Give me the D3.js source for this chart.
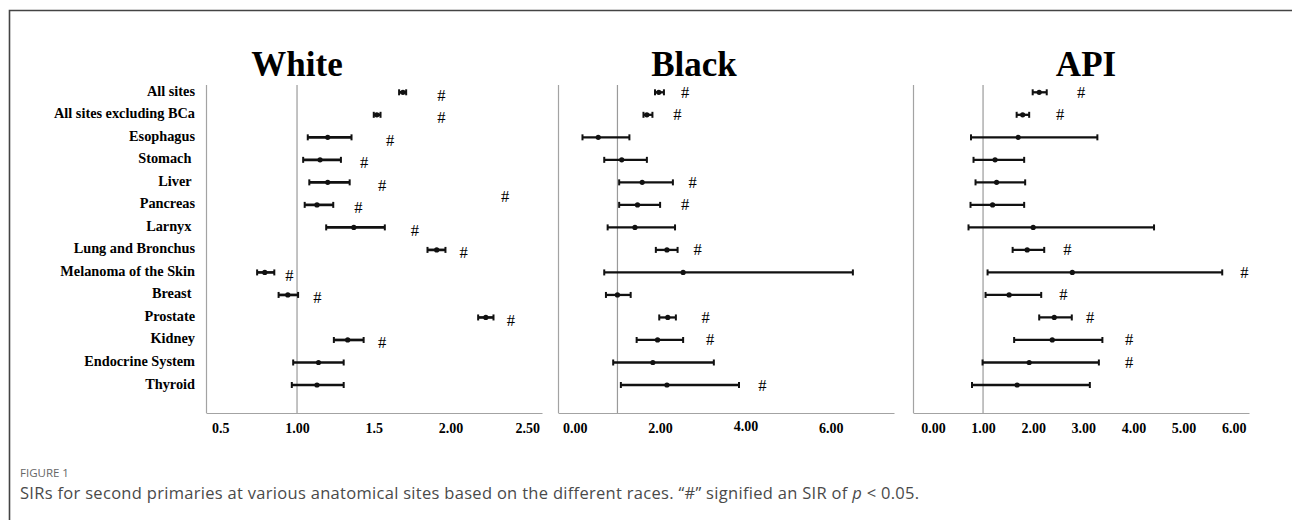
<!DOCTYPE html>
<html>
<head>
<meta charset="utf-8">
<script src="https://cdn.jsdelivr.net/npm/d3@7/dist/d3.min.js"></script>
<style>
  html, body { margin: 0; padding: 0; background: #fff; }
  svg { display: block; }
  .site { font-family: "Liberation Serif", "Times New Roman", serif; font-weight: bold; font-size: 14.3px; fill: #000; white-space: pre; }
  .title { font-family: "Liberation Serif", "Times New Roman", serif; font-weight: bold; font-size: 35px; fill: #000; }
  .tick text { font-family: "Liberation Serif", "Times New Roman", serif; font-weight: bold; font-size: 14px; fill: #000; }
  .hash { font-family: "Liberation Serif", "Times New Roman", serif; font-size: 16.5px; fill: #000; }
  .cap1 { font-family: "Open Sans", sans-serif; font-size: 11.5px; fill: #666; }
  .cap2 { font-family: "Open Sans", sans-serif; font-size: 16.5px; letter-spacing: 0.3px; fill: #4a4a4a; }
</style>
</head>
<body>
<svg id="chart" width="1292" height="520"></svg>
<script>
// ---------- data ----------
const sites = ["All sites", "All sites excluding BCa", "Esophagus", "Stomach ", "Liver ", "Pancreas",
  "Larnyx ", "Lung and Bronchus", "Melanoma of the Skin", "Breast ", "Prostate", "Kidney",
  "Endocrine System", "Thyroid"];

const whiteSIR = [1.69, 1.52, 1.20, 1.15, 1.20, 1.13, 1.37, 1.91, 0.79, 0.94, 2.23, 1.33, 1.14, 1.13];
const whiteLo  = [1.665, 1.50, 1.07, 1.04, 1.08, 1.05, 1.19, 1.85, 0.74, 0.88, 2.18, 1.24, 0.975, 0.966];
const whiteHi  = [1.711, 1.544, 1.355, 1.286, 1.343, 1.236, 1.572, 1.967, 0.852, 1.007, 2.28, 1.434, 1.304, 1.304];
const whiteHash = [[0, 1.94], [1, 1.94], [2, 1.606], [3, 1.437], [4, 1.555], [4.5, 2.355], [5, 1.40],
  [6, 1.768], [7, 2.086], [8, 0.95], [9, 1.133], [10, 2.394], [11, 1.555]];

const blackSIR = [1.97, 1.69, 0.55, 1.10, 1.58, 1.47, 1.41, 2.16, 2.54, 1.00, 2.18, 1.94, 1.83, 2.16];
const blackLo  = [1.88, 1.61, 0.18, 0.69, 1.04, 1.04, 0.77, 1.90, 0.69, 0.73, 1.98, 1.45, 0.90, 1.08];
const blackHi  = [2.09, 1.82, 1.28, 1.69, 2.30, 2.00, 2.35, 2.41, 6.52, 1.31, 2.37, 2.54, 3.26, 3.85];
const blackHash = [[0, 2.584], [1, 2.403], [4, 2.764], [5, 2.584], [7, 2.882], [10, 3.069], [11, 3.17], [13, 4.396]];

const apiSIR = [2.12, 1.79, 1.70, 1.24, 1.27, 1.19, 2.00, 1.88, 2.78, 1.52, 2.42, 2.38, 1.92, 1.68];
const apiLo  = [1.99, 1.67, 0.76, 0.81, 0.85, 0.75, 0.71, 1.59, 1.09, 1.05, 2.12, 1.62, 0.99, 0.78];
const apiHi  = [2.27, 1.92, 3.28, 1.82, 1.84, 1.82, 4.41, 2.22, 5.77, 2.16, 2.77, 3.38, 3.31, 3.13];
const apiHash = [[0, 2.954], [1, 2.535], [7, 2.68], [8, 6.211], [9, 2.601], [10, 3.133], [11, 3.911], [12, 3.911]];

const whiteTicks = [0.5, 1, 1.5, 2, 2.5];
const whiteTickLabels = ["0.5", "1.00", "1.5", "2.00", "2.50"];
const blackTicks = [0, 2, 4, 6];
const blackTickLabels = ["0.00", "2.00", "4.00", "6.00"];
const apiTicks = [0, 1, 2, 3, 4, 5, 6];
const apiTickLabels = ["0.00", "1.00", "2.00", "3.00", "4.00", "5.00", "6.00"];

const panelTitles = ["White", "Black", "API"];

// ---------- layout ----------
const svg = d3.select("#chart");
const plotTop = 85, axisY = 413;
const yIdx = d3.scaleLinear().domain([0, sites.length - 1]).range([92.3, 385]);

const panels = [
  { title: panelTitles[0], sir: whiteSIR, lo: whiteLo, hi: whiteHi, hash: whiteHash,
    ticks: whiteTicks, labels: whiteTickLabels, domain: [0.407, 2.596], range: [206, 542],
    titleX: 297, hashDy: 3, stroke: 2.7, tickDy: {} },
  { title: panelTitles[1], sir: blackSIR, lo: blackLo, hi: blackHi, hash: blackHash,
    ticks: blackTicks, labels: blackTickLabels, domain: [-0.394, 7.484], range: [558, 894],
    titleX: 694, hashDy: 0, stroke: 2.3, tickDy: { 4: -2 } },
  { title: panelTitles[2], sir: apiSIR, lo: apiLo, hi: apiHi, hash: apiHash,
    ticks: apiTicks, labels: apiTickLabels, domain: [-0.397, 6.304], range: [913, 1249],
    titleX: 1086, hashDy: 0, stroke: 2.3, tickDy: {} }
];

// frame
svg.append("path")
  .attr("d", "M9.5,520 L9.5,10.5 L1292,10.5")
  .attr("fill", "none").attr("stroke", "#444").attr("stroke-width", 1.6);

// site labels
svg.append("g").selectAll("text").data(sites).join("text")
  .attr("class", "site")
  .attr("x", 195)
  .attr("y", (d, i) => yIdx(i) - 1.5)
  .attr("text-anchor", "end")
  .attr("dominant-baseline", "central")
  .text(d => d);

panels.forEach(p => {
  const x = d3.scaleLinear().domain(p.domain).range(p.range);
  const g = svg.append("g");

  // title
  g.append("text").attr("class", "title")
    .attr("x", p.titleX).attr("y", 76)
    .attr("text-anchor", "middle").text(p.title);

  // left axis line
  g.append("line")
    .attr("x1", p.range[0] + 0.5).attr("x2", p.range[0] + 0.5)
    .attr("y1", plotTop).attr("y2", axisY)
    .attr("stroke", "#a3a3a3").attr("stroke-width", 1.2);

  // reference line at SIR = 1
  g.append("line")
    .attr("x1", x(1)).attr("x2", x(1))
    .attr("y1", plotTop).attr("y2", axisY)
    .attr("stroke", "#9a9a9a").attr("stroke-width", 1.2);

  // bottom axis
  const axis = d3.axisBottom(x).tickValues(p.ticks).tickSize(0).tickPadding(10)
    .tickFormat((d, i) => p.labels[i]);
  const ag = g.append("g").attr("transform", `translate(0,${axisY})`).call(axis);
  ag.select(".domain").attr("stroke", "#a3a3a3").attr("stroke-width", 1.2);
  ag.selectAll(".tick text")
    .attr("dy", (d) => (p.tickDy[d] ? (0.71 * 14 + p.tickDy[d]) + "px" : "0.71em"));

  // error bars
  const rows = p.sir.map((v, i) => ({ i, v, lo: p.lo[i], hi: p.hi[i] }));
  const eb = g.append("g").selectAll("g").data(rows).join("g");
  eb.append("line")
    .attr("x1", d => x(d.lo)).attr("x2", d => x(d.hi))
    .attr("y1", d => yIdx(d.i)).attr("y2", d => yIdx(d.i))
    .attr("stroke", "#111").attr("stroke-width", p.stroke);
  eb.append("line")
    .attr("x1", d => x(d.lo)).attr("x2", d => x(d.lo))
    .attr("y1", d => yIdx(d.i) - 3).attr("y2", d => yIdx(d.i) + 3)
    .attr("stroke", "#111").attr("stroke-width", 2);
  eb.append("line")
    .attr("x1", d => x(d.hi)).attr("x2", d => x(d.hi))
    .attr("y1", d => yIdx(d.i) - 3).attr("y2", d => yIdx(d.i) + 3)
    .attr("stroke", "#111").attr("stroke-width", 2);
  eb.append("circle")
    .attr("cx", d => x(d.v)).attr("cy", d => yIdx(d.i))
    .attr("r", 2.6).attr("fill", "#111");

  // significance marks
  g.append("g").selectAll("text").data(p.hash).join("text")
    .attr("class", "hash")
    .attr("x", d => x(d[1])).attr("y", d => yIdx(d[0]) + p.hashDy)
    .attr("text-anchor", "middle").attr("dominant-baseline", "central")
    .text("#");
});

// caption
svg.append("text").attr("class", "cap1").attr("x", 20).attr("y", 477).text("FIGURE 1");
const cap = svg.append("text").attr("class", "cap2").attr("x", 20).attr("y", 499);
cap.append("tspan").text("SIRs for second primaries at various anatomical sites based on the different races. \u201c#\u201d signified an SIR of ");
cap.append("tspan").attr("font-style", "italic").text("p");
cap.append("tspan").text(" < 0.05.");
</script>
</body>
</html>
